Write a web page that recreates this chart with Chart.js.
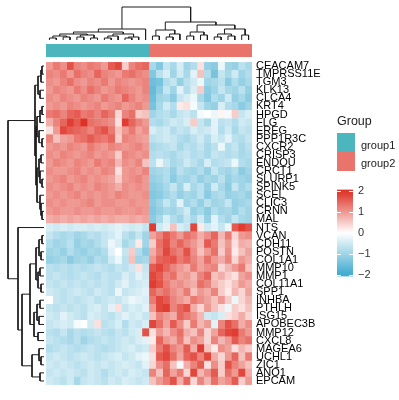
<!DOCTYPE html>
<html>
<head>
<meta charset="utf-8">
<script src="https://cdn.jsdelivr.net/npm/chart.js@4/dist/chart.umd.min.js"></script>
<style>
  body { margin: 0; background: #fff; }
  #wrap { position: relative; width: 399px; height: 400px; overflow: hidden; font-family: 'Liberation Sans', Arial, sans-serif; }
  canvas { position: absolute; }
  .txt { position: absolute; color: #222; white-space: nowrap; }
  .sq { position: absolute; width: 18px; height: 19px; }
</style>
</head>
<body>
<div id="wrap">
  <canvas id="topTree" width="206" height="37" style="left:46px;top:5px"></canvas>
  <canvas id="groupBar" width="206" height="13" style="left:46px;top:44px"></canvas>
  <canvas id="leftTree" width="40" height="323" style="left:6px;top:62px"></canvas>
  <canvas id="heat" width="292" height="339" style="left:46px;top:54px"></canvas>
  <canvas id="scale" width="50" height="110" style="left:337px;top:178px"></canvas>
  <div class="txt" style="left:337px;top:114px;font-size:12.5px">Group</div>
  <div class="sq" style="left:337px;top:133px;background:#4BB6BE"></div>
  <div class="sq" style="left:337px;top:152px;background:#E9746C"></div>
  <div class="txt" style="left:361px;top:139px;font-size:11px">group1</div>
  <div class="txt" style="left:361px;top:157px;font-size:11px">group2</div>
</div>
<script>
const genes = ['CEACAM7', 'TMPRSS11E', 'TGM3', 'KLK13', 'CLCA4', 'KRT4', 'HPGD', 'FLG', 'EREG', 'PPP1R3C',
  'CXCR2', 'CRISP3', 'ENDOU', 'CRCT1', 'SLURP1', 'SPINK5', 'SCEL', 'CLIC3', 'CRNN', 'MAL',
  'NTS', 'VCAN', 'CDH11', 'POSTN', 'COL1A1', 'MMP10', 'MMP1', 'COL11A1', 'SPP1', 'INHBA',
  'PTHLH', 'ISG15', 'APOBEC3B', 'MMP12', 'CXCL8', 'MAGEA6', 'UCHL1', 'ZIC1', 'ANO1', 'EPCAM'];

const groups = ['group1', 'group2'];
const groupSizes = [15, 15];
const groupColors = ['#4BB6BE', '#E9746C'];

// row-scaled expression, one row per gene, columns in dendrogram order
const expr = [
  [1.0, 1.3, 1.1, 1.7, 1.2, 1.1, 1.3, 1.2, 1.0, 1.6, 1.8, 0.5, 1.2, 1.4, 1.5, -0.9, -1.3, -0.6, -0.9, -0.4, -1.0, -0.8, 0.3, -1.1, -1.2, -0.2, -1.0, -1.1, -0.7, -0.9],
  [1.2, 1.1, 1.3, 1.0, 1.4, 1.2, 1.1, 1.5, 1.2, 1.1, 1.0, 1.3, 1.4, 1.2, 1.1, -1.3, -0.7, -0.4, -1.0, -0.5, -0.9, -0.3, 0.6, -0.8, -1.4, -0.6, -0.9, -0.5, -1.0, -0.8],
  [1.1, 1.0, 1.2, 1.4, 1.1, 1.0, 1.2, 1.1, 1.3, 1.0, 1.2, 1.1, 1.0, 1.1, 1.2, -1.5, -1.4, -0.8, -0.6, -1.1, -0.7, -0.5, -0.2, -1.0, -0.9, -0.7, -1.2, -0.8, -1.1, -0.9],
  [1.0, 1.2, 1.1, 1.0, 1.3, 1.1, 1.4, 1.2, 1.0, 1.1, 1.3, 1.2, 1.1, 1.0, 1.2, -1.6, -1.2, -0.6, -1.0, -0.3, -0.8, -0.4, 0.5, -1.2, -1.0, -0.6, -0.9, -1.0, -0.7, -1.1],
  [1.1, 1.0, 1.2, 1.1, 1.0, 1.2, 1.1, 1.0, 1.3, 1.1, 1.0, 1.5, 1.2, 1.0, 1.1, -1.5, -1.0, -0.9, -1.2, -0.6, -0.4, -0.2, -0.9, -1.3, -0.8, -1.0, -0.5, -1.1, -0.9, -1.2],
  [1.0, 1.1, 1.0, 1.2, 1.1, 1.0, 1.1, 1.2, 1.0, 1.1, 1.2, 1.0, 1.1, 1.2, 1.0, -1.4, -0.9, -0.5, -0.8, 0.2, 0.3, -0.1, -0.6, -1.0, -1.1, -0.4, -0.8, -0.9, -1.2, -1.0],
  [1.3, 1.4, 1.2, 1.5, 1.6, 1.3, 1.4, 1.2, 1.5, 1.3, 0.4, 1.2, 1.4, 0.5, 0.6, -1.0, -0.8, -0.7, -0.9, -0.6, -0.5, -0.7, -0.1, 0.0, -0.2, 0.1, -0.1, 0.5, -0.6, -0.4],
  [0.8, 1.2, 1.5, 1.9, 1.6, 2.0, 1.4, 1.3, 1.2, 1.1, 0.3, 1.9, 1.5, 1.2, 1.0, -0.8, -0.9, -0.7, -0.5, -0.6, -0.4, 0.5, -0.6, -0.9, -0.3, -0.7, -0.6, -0.8, -0.5, -0.6],
  [0.3, 1.0, 1.8, 1.6, 1.5, 1.4, 1.2, 1.5, 1.7, 1.3, 0.6, 1.0, 1.3, 0.9, 1.1, -0.4, -0.6, -0.5, -0.8, -0.6, -0.7, -0.4, -0.6, -0.5, -0.3, -0.8, -0.5, -0.9, -0.6, -0.7],
  [1.2, 0.6, 0.9, 1.0, 1.3, 1.4, 1.6, 1.4, 1.3, 1.5, 0.5, 1.2, 1.1, 1.0, 0.9, -0.7, -0.6, -0.5, -0.6, -0.8, -0.9, -0.7, -0.5, -0.8, -0.4, -0.6, -0.3, -0.7, -0.8, -0.6],
  [1.0, 1.1, 1.0, 1.2, 1.1, 1.0, 1.3, 1.1, 1.0, 1.2, 1.1, 1.0, 1.1, 1.2, 1.0, -0.9, -0.8, -0.7, -0.6, -0.9, -0.7, -0.8, -0.6, -0.9, -0.7, -0.2, -0.8, -0.6, -0.9, -0.7],
  [1.1, 1.0, 1.2, 1.1, 1.0, 1.1, 1.2, 1.0, 1.1, 1.0, 0.5, 1.2, 1.1, 1.0, 1.1, -0.8, -0.7, -0.8, -0.9, -0.7, -0.6, -0.8, -0.7, -0.9, -0.6, -0.7, -0.8, -0.7, -0.9, -0.8],
  [1.0, 1.2, 1.1, 1.0, 1.2, 1.1, 1.0, 1.3, 1.1, 1.2, 0.7, 1.1, 1.0, 1.2, 0.6, -0.7, -0.2, -0.6, -0.9, -0.8, -0.5, -0.7, -0.9, -0.4, -0.8, -0.7, -0.6, -0.2, -0.8, -0.9],
  [1.1, 1.0, 1.0, 1.1, 1.2, 1.0, 1.1, 1.0, 1.2, 1.1, 0.3, 1.0, 1.1, 1.0, 1.2, -1.0, -0.9, -0.8, -1.1, -0.7, -0.9, -1.0, -0.8, -1.1, -0.6, -0.9, -1.0, -0.8, -1.2, -1.0],
  [1.0, 1.1, 1.2, 1.0, 1.1, 1.2, 1.0, 1.1, 1.0, 0.9, 0.5, 1.0, 1.1, 1.2, 1.0, -1.1, -1.0, -0.8, -1.2, -0.9, -1.0, -0.8, -1.1, -0.9, -1.0, -0.7, -1.1, -0.9, -1.0, -1.1],
  [1.1, 1.0, 1.1, 1.2, 1.0, 1.1, 1.0, 1.2, 1.1, 1.0, 0.8, 1.1, 1.0, 1.1, 1.0, -1.2, -1.1, -0.9, -0.6, -1.0, -0.4, -0.9, -0.7, -1.1, -0.5, -0.9, -1.2, -0.6, -1.0, -0.8],
  [1.0, 1.1, 1.0, 1.1, 1.2, 1.0, 1.1, 1.0, 1.1, 1.0, 1.2, 1.1, 1.0, 1.0, 1.1, -1.3, -1.2, -1.0, -0.8, -1.1, -0.9, -1.0, -0.7, -1.2, -0.9, -0.8, -1.1, -1.0, -0.9, -1.1],
  [1.1, 1.0, 1.1, 1.0, 1.0, 1.1, 1.2, 1.0, 1.1, 1.1, 1.0, 1.0, 1.1, 1.0, 1.0, -1.2, -1.0, -0.6, -0.9, -0.3, -1.0, -0.8, -1.1, -0.7, -1.0, -0.9, -0.6, -1.1, -1.0, -0.9],
  [1.0, 1.1, 1.0, 1.0, 1.1, 1.0, 1.0, 1.1, 1.0, 1.0, 1.1, 1.0, 1.0, 1.1, 1.0, -1.3, -1.1, -0.9, -1.0, -0.8, -0.5, -1.1, -0.9, -1.2, -0.8, -1.0, -0.9, -1.1, -0.8, -1.0],
  [0.8, 0.9, 0.8, 0.9, 0.8, 0.9, 0.8, 0.9, 0.8, 0.9, 0.8, 0.8, 0.9, 0.8, 0.9, -1.2, -0.9, -0.4, -0.8, -1.0, -0.6, -0.9, -0.5, -1.1, -0.3, -0.8, -1.0, -0.6, -0.9, -1.0],
  [-0.4, -0.5, -0.4, -0.5, -0.4, -0.4, -0.5, -0.4, -0.5, -0.4, -0.3, -0.4, -0.5, -0.4, -0.6, 1.9, -0.5, -0.3, 0.6, -0.4, -0.6, 1.8, 0.2, -0.5, -0.3, -0.6, -0.2, 1.6, 1.9, 1.7],
  [-0.6, -0.8, -0.9, -0.8, -1.0, -0.9, -0.7, -0.8, -0.6, -0.5, -0.3, -0.7, -0.9, -0.6, -1.0, 0.9, 1.2, 1.6, 1.3, 1.0, 1.4, 1.2, 0.8, 1.1, 1.5, 0.7, 1.3, 0.4, 1.0, 1.1],
  [-0.8, -1.0, -0.9, -0.7, -1.1, -0.9, -1.0, -0.8, -0.6, -0.2, -0.4, -0.9, -0.7, 0.2, -1.0, 0.5, 1.4, 1.7, 1.2, 1.5, 1.2, 1.0, 0.7, 1.6, 1.3, 0.6, 1.0, 0.3, 0.8, 0.7],
  [-1.0, -0.9, -1.1, -0.8, -1.0, -1.1, -0.9, -1.0, -0.8, -0.3, 0.0, -0.6, 0.5, -0.8, -1.2, 0.8, 1.3, 1.8, 1.4, 1.2, 1.7, 1.1, 0.6, 1.0, 1.4, 0.5, 1.1, 0.2, 0.6, 0.9],
  [-1.1, -1.0, -0.9, -1.2, -1.0, -0.9, -1.1, -0.8, -0.9, -0.5, -0.2, -0.7, 0.6, -1.0, -0.9, 1.0, 1.5, 1.6, 1.7, 1.3, 1.5, 1.2, 0.9, 1.4, 1.0, 0.8, 1.2, 0.4, 1.0, 0.8],
  [-0.7, -0.8, -0.7, -0.8, -0.7, -0.8, -0.7, -0.6, -0.7, -0.8, -0.6, -0.7, -0.5, 0.3, -0.6, 1.6, 1.8, 1.5, 1.2, 1.0, 0.8, 1.3, 0.9, 1.1, 1.2, 0.4, 0.7, 1.0, 1.3, 0.6],
  [-0.7, -0.6, -0.7, -0.8, -0.7, -0.6, -0.7, -0.8, -0.6, -0.7, -0.7, -0.4, -0.6, -0.3, -0.5, 1.8, 1.6, 1.2, 1.4, 0.9, 1.0, 0.7, 1.2, 1.5, 0.6, 0.8, 0.5, 0.3, 0.9, 1.1],
  [-0.6, -0.7, -0.6, -0.7, -0.6, -0.7, -0.6, -0.7, -0.6, -0.7, -0.5, -0.3, -0.6, -0.5, -0.4, 1.9, 1.7, 1.3, 1.0, 1.1, 0.9, 0.8, 1.4, 1.2, 0.7, 0.5, 0.3, 0.6, 1.0, 0.8],
  [-0.5, -0.6, -0.7, -0.6, -0.5, -0.6, -0.7, -0.5, -0.6, -0.7, -0.2, -0.6, -0.5, -0.4, -0.3, 1.5, 1.2, 1.4, 1.1, 0.9, 1.3, 0.6, 1.0, 0.8, 1.2, 0.5, 0.2, 0.7, 0.4, 0.9],
  [0.0, -0.6, -0.7, -0.6, -0.7, -0.6, -0.5, -0.7, -0.6, -0.5, -0.6, -0.4, -0.2, -0.3, -0.4, 1.3, 1.8, 1.6, 1.2, 1.0, 0.8, 1.3, 1.1, 0.9, 0.6, 1.0, 0.5, -0.2, 0.4, 0.7],
  [-0.6, -0.7, -0.6, -0.7, -0.6, -0.7, -0.5, -0.4, -0.6, -0.3, 0.3, -0.6, -0.4, -0.5, -0.3, 1.0, 1.8, 1.9, 1.2, 1.5, 1.7, 0.8, 0.4, 1.0, 0.6, 0.3, -0.2, 0.5, 0.3, 0.6],
  [-0.5, -0.6, -0.3, -0.5, -0.6, -0.7, -0.4, -0.5, -0.6, -0.7, -0.5, -0.3, -0.5, -0.4, -0.6, 0.6, 1.2, 1.0, 0.8, 1.5, 1.3, 1.1, 0.7, -0.5, -0.6, -0.4, 0.3, 0.5, 0.8, 0.4],
  [-0.6, -0.5, -0.4, -0.5, -0.1, 0.0, -0.5, 0.3, -0.7, -0.6, -0.4, -0.8, -0.5, -0.6, -0.4, 1.8, 1.4, 0.9, 1.6, 1.1, 0.5, 1.3, 0.7, 1.0, -0.3, 1.2, 1.7, 1.4, 0.8, 1.1],
  [-0.7, -0.8, -0.6, -0.9, -0.7, -0.8, -0.7, -0.6, -0.7, -0.8, -0.6, -0.7, -0.5, -0.4, 1.7, 0.3, 1.0, 0.7, 1.1, 1.4, 0.8, 0.6, 1.2, 0.4, 0.9, 1.5, 1.8, 1.9, 1.3, 1.0],
  [-0.6, -0.7, -0.8, -0.9, -0.7, -1.0, -0.8, -0.7, -0.6, -0.7, -0.6, -0.5, -0.6, -0.4, -0.3, 0.2, 1.5, 1.0, 0.8, 1.3, 0.6, 1.1, 0.9, 0.4, 1.2, 0.7, 1.0, 1.6, 1.2, 1.4],
  [-0.8, -0.7, -0.6, -0.7, -0.8, -0.7, -0.6, -0.7, -0.8, -0.7, -0.6, -0.5, -0.4, -0.6, -0.5, 0.5, 1.3, 1.7, 1.2, 1.0, 1.6, 0.8, 1.9, 0.6, 0.2, 1.1, 0.9, 0.3, 0.7, 0.5],
  [-0.6, -0.5, -0.6, -0.7, -0.6, -0.5, -0.6, -0.7, -0.6, -0.5, -0.4, -0.6, -0.5, -0.3, -0.2, 0.3, 1.6, 1.8, 1.4, 0.9, 1.5, 1.7, 1.2, 1.8, 0.8, 0.4, 1.0, 1.5, 0.6, 1.3],
  [-0.5, -0.6, -0.5, -0.6, -0.7, -0.6, -0.5, -0.6, -0.5, -0.6, -0.5, -0.4, -0.5, -0.6, -0.3, 0.4, 1.1, 1.4, 0.6, -0.1, 0.8, 1.2, 1.6, 0.3, 1.1, 0.5, 1.7, 1.2, 0.9, 0.6],
  [-0.6, -0.5, -0.6, -0.5, -0.6, -0.7, -0.5, -0.6, -0.8, -0.6, -0.5, -0.6, -0.4, -0.5, -0.6, 1.2, 0.6, 1.5, 0.9, 1.3, 0.4, 1.8, 0.7, 1.1, 1.6, 0.5, 1.4, 1.0, 1.8, 0.8],
  [-0.5, -0.6, -0.7, -0.5, -0.9, -0.6, -0.5, -0.6, -0.7, -0.5, -0.6, -0.4, -0.5, -0.6, -0.5, 0.6, 1.0, 1.3, 1.7, 0.8, 1.5, 0.4, 1.2, 0.7, 1.4, 0.9, 1.1, 1.6, 0.5, 1.0]
];

// dendrograms as nested [height, left, right], leaves are column / row indexes
const colTree = [33,
  [11, [8, [6, [4, [2, 0, 1], [3, 2, 3]], [5, [3, 4, 5], [2, 6, 7]]], [6, [4, [2, 8, 9], 10], [3, [2, 11, 12], 13]]], 14],
  [18, [10, [4, 15, 16], [6, [3, 17, 18], 19]], [15, [8, [4, 20, 21], [5, 22, 23]], [11, [6, [3, 24, 25], [4, 26, 27]], [5, 28, 29]]]]];
const rowTree = [36,
  [9, [6, [3, [2, 0, 1], 2], [4, 3, 4]], [8, [7, [4, [2, 5, 6], 7], [5, 8, [2, 9, 10]]], [7, [5, [3, 11, 12], [4, 13, [2, 14, 15]]], [4, 16, [3, 17, [2, 18, 19]]]]]],
  [26, 20, [22, [14, [8, [5, [2, 21, 22], [3, 23, 24]], [6, [4, 25, 26], [3, 27, 28]]], [10, [7, [4, 29, 30], [5, 31, 32]], [6, 33, 34]]], [12, [5, 35, [3, 36, 37]], [4, 38, 39]]]]];

const scaleTicks = [-2, -1, 0, 1, 2];
const scaleLimit = 2.08;

Chart.defaults.font.family = "'Liberation Sans', Arial, sans-serif";
Chart.defaults.animation = false;
Chart.defaults.responsive = false;
Chart.defaults.plugins.legend.display = false;
Chart.defaults.plugins.tooltip.enabled = false;
Chart.defaults.layout.padding = 0;

const lowCol = [62, 170, 207], highCol = [222, 50, 38];
function heatColor(v) {
  const t = Math.max(-1, Math.min(1, v / 2));
  const end = t < 0 ? lowCol : highCol;
  const a = Math.abs(t);
  const c = end.map(e => Math.round(255 + (e - 255) * a));
  return `rgb(${c[0]},${c[1]},${c[2]})`;
}

function treeSegments(tree) {
  const segs = [];
  const walk = (n) => {
    if (typeof n === 'number') return { pos: n + 0.5, h: 0 };
    const [h, a, b] = n;
    const A = walk(a), B = walk(b);
    segs.push([[A.pos, A.h], [A.pos, h], [B.pos, h], [B.pos, B.h]]);
    return { pos: (A.pos + B.pos) / 2, h };
  };
  walk(tree);
  return segs;
}

const lineStyle = { showLine: true, pointRadius: 0, borderColor: '#1c1c1c', borderWidth: 1, clip: false };
const nCols = expr[0].length;
const nRows = genes.length;

// top column dendrogram
new Chart(document.getElementById('topTree'), {
  type: 'scatter',
  data: { datasets: treeSegments(colTree).map(s => ({ ...lineStyle, data: s.map(([p, h]) => ({ x: p, y: h })) })) },
  options: {
    scales: {
      x: { type: 'linear', min: 0, max: nCols, display: false },
      y: { type: 'linear', min: -2, max: 35, display: false }
    }
  }
});

// group annotation bar
let start = 0;
new Chart(document.getElementById('groupBar'), {
  type: 'bar',
  data: {
    labels: ['Group'],
    datasets: groups.map((g, i) => {
      const d = { label: g, data: [[start, start + groupSizes[i]]], backgroundColor: groupColors[i],
        barPercentage: 1, categoryPercentage: 1, grouped: false, borderSkipped: false };
      start += groupSizes[i];
      return d;
    })
  },
  options: {
    indexAxis: 'y',
    scales: {
      x: { type: 'linear', min: 0, max: nCols, display: false },
      y: { display: false }
    }
  }
});

// left row dendrogram
new Chart(document.getElementById('leftTree'), {
  type: 'scatter',
  data: { datasets: treeSegments(rowTree).map(s => ({ ...lineStyle, data: s.map(([p, h]) => ({ x: h, y: p })) })) },
  options: {
    scales: {
      x: { type: 'linear', min: -2, max: 38, reverse: true, display: false },
      y: { type: 'linear', min: 0, max: nRows, reverse: true, display: false }
    }
  }
});

// heatmap body: one floating-bar dataset per column
new Chart(document.getElementById('heat'), {
  type: 'bar',
  data: {
    labels: genes,
    datasets: Array.from({ length: nCols }, (_, c) => {
      const cols = expr.map(row => heatColor(row[c]));
      return {
        data: genes.map(() => [c, c + 1]),
        backgroundColor: cols,
        borderColor: cols,
        borderWidth: 0.5,
        borderSkipped: false,
        barPercentage: 1,
        categoryPercentage: 1,
        grouped: false
      };
    })
  },
  options: {
    indexAxis: 'y',
    layout: { padding: { top: 8, bottom: 8 } },
    scales: {
      x: { type: 'linear', min: 0, max: nCols, display: false },
      y: {
        position: 'right',
        grid: { display: false, drawTicks: false },
        border: { display: false },
        ticks: { autoSkip: false, color: '#000', padding: 4, font: { size: 11 } },
        afterFit(s) { s.width = 86; s.paddingTop = 0; s.paddingBottom = 0; }
      }
    }
  }
});

// colour key
const tickMarks = {
  id: 'tickMarks',
  afterDatasetsDraw(chart) {
    const { ctx, chartArea: a, scales: { y } } = chart;
    ctx.save();
    ctx.strokeStyle = '#fff';
    ctx.lineWidth = 1.2;
    scaleTicks.forEach(v => {
      const py = Math.round(y.getPixelForValue(v)) + 0.5;
      ctx.beginPath();
      ctx.moveTo(a.left, py); ctx.lineTo(a.left + 4, py);
      ctx.moveTo(a.right - 4, py); ctx.lineTo(a.right, py);
      ctx.stroke();
    });
    ctx.restore();
  }
};
new Chart(document.getElementById('scale'), {
  type: 'bar',
  data: {
    labels: [''],
    datasets: [{
      data: [[-scaleLimit, scaleLimit]],
      barPercentage: 1,
      categoryPercentage: 1,
      borderSkipped: false,
      backgroundColor(ctx) {
        const a = ctx.chart.chartArea;
        if (!a || !isFinite(a.top) || !isFinite(a.bottom)) return 'rgba(0,0,0,0)';
        const g = ctx.chart.ctx.createLinearGradient(0, a.bottom, 0, a.top);
        for (let i = 0; i <= 20; i++) {
          const v = -scaleLimit + (2 * scaleLimit) * i / 20;
          g.addColorStop(i / 20, heatColor(v));
        }
        return g;
      }
    }]
  },
  options: {
    layout: { padding: { top: 5, bottom: 5 } },
    scales: {
      x: { display: false },
      y: {
        position: 'right',
        min: -scaleLimit,
        max: scaleLimit,
        grid: { display: false, drawTicks: false },
        border: { display: false },
        afterBuildTicks(s) { s.ticks = scaleTicks.map(v => ({ value: v })); },
        ticks: { color: '#333', padding: 5, font: { size: 11 },
          callback: v => v < 0 ? '\u2212' + Math.abs(v) : String(v) },
        afterFit(s) { s.width = 34; }
      }
    }
  },
  plugins: [tickMarks]
});
</script>
</body>
</html>
